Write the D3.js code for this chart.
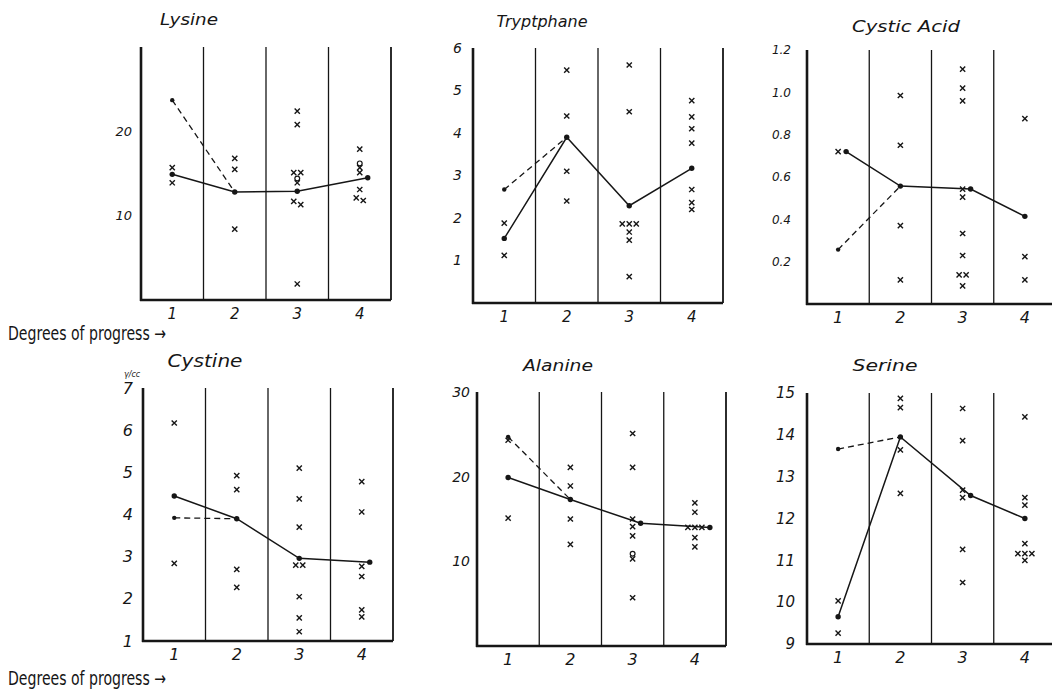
<html>
<head>
  <title>Amino acids by degree of progress</title>
  <script src="https://d3js.org/d3.v7.min.js"></script>
  <style>
    body { margin: 0; background: #fff; }
    text { fill: #161616; }
  </style>
</head>
<body>
  <div id="chart"></div>

  <script type="text/javascript">

    // degrees of progress (x categories, same for every panel)
    var categories = [1, 2, 3, 4];

    // Lysine
    var lysineTicks = [10, 20];
    var lysinePoints = [[15.7, 13.9], [16.8, 15.5, 8.4], [22.4, 20.8, 15.1, 15.1, 13.9, 11.7, 11.3, 1.9], [17.9, 15.7, 15.1, 13.1, 12.1, 11.8]];
    var lysineRings = [[], [], [14.4], [16.2]];
    var lysineMeans = [14.9, 12.8, 12.9, 14.5];
    var lysineStart = 23.7;

    // Tryptophane
    var tryptTicks = [1, 2, 3, 4, 5, 6];
    var tryptPoints = [[1.88, 1.12], [5.48, 4.4, 3.1, 2.4], [5.6, 4.5, 1.86, 1.86, 1.86, 1.67, 1.48, 0.62], [4.76, 4.38, 4.1, 3.76, 2.67, 2.36, 2.2]];
    var tryptMeans = [1.52, 3.9, 2.29, 3.17];
    var tryptStart = 2.67;

    // Cystic acid
    var cysticTicks = [0.2, 0.4, 0.6, 0.8, 1.0, 1.2];
    var cysticPoints = [[0.72], [0.985, 0.75, 0.37, 0.114], [1.11, 1.02, 0.96, 0.543, 0.505, 0.333, 0.229, 0.138, 0.138, 0.086], [0.876, 0.224, 0.114]];
    var cysticMeans = [0.72, 0.557, 0.543, 0.414];
    var cysticStart = 0.257;

    // Cystine
    var cystineTicks = [1, 2, 3, 4, 5, 6, 7];
    var cystinePoints = [[6.17, 2.84], [4.92, 4.59, 2.7, 2.27], [5.1, 4.37, 3.7, 2.8, 2.8, 2.05, 1.55, 1.22], [4.78, 4.06, 2.77, 2.53, 1.74, 1.57]];
    var cystineMeans = [4.44, 3.9, 2.96, 2.87];
    var cystineStart = 3.92;

    // Alanine
    var alanineTicks = [10, 20, 30];
    var alaninePoints = [[24.3, 15.1], [21.1, 18.9, 15.0, 12.0], [25.1, 21.1, 15.0, 14.1, 13.0, 10.3, 5.7], [16.9, 15.8, 14.0, 14.0, 14.0, 12.8, 11.7]];
    var alanineRings = [[], [], [10.9], []];
    var alanineMeans = [19.9, 17.3, 14.5, 14.0];
    var alanineStart = 24.7;

    // Serine
    var serineTicks = [9, 10, 11, 12, 13, 14, 15];
    var serinePoints = [[10.03, 9.26], [14.87, 14.65, 13.64, 12.6], [14.63, 13.86, 12.68, 12.5, 11.26, 10.47], [14.43, 12.5, 12.32, 11.4, 11.16, 11.16, 11.16, 11.0]];
    var serineMeans = [9.65, 13.95, 12.55, 12.0];
    var serineStart = 13.66;

    // panel layout: box = [left, right, top, bottom]
    var panels = [
      {title: "Lysine", domain: [0, 30], ticks: lysineTicks, points: lysinePoints, rings: lysineRings, means: lysineMeans, start: lysineStart,
       box: [141, 391, 47, 300], fmt: "d", yPad: 9, ySize: 13, xSize: 15, titleX: 189, titleY: 25, titleW: 58, titleSize: 15},
      {title: "Tryptphane", domain: [0, 6], ticks: tryptTicks, points: tryptPoints, rings: null, means: tryptMeans, start: tryptStart,
       box: [473, 723, 48, 303], fmt: "d", yPad: 11, ySize: 14, xSize: 15, titleX: 542, titleY: 27, titleW: 91, titleSize: 16},
      {title: "Cystic Acid", domain: [0, 1.2], ticks: cysticTicks, points: cysticPoints, rings: null, means: cysticMeans, start: cysticStart,
       box: [807, 1056, 50, 304], fmt: ".1f", yPad: 16, ySize: 12, xSize: 16, titleX: 906, titleY: 32, titleW: 108, titleSize: 16},
      {title: "Cystine", domain: [1, 7], ticks: cystineTicks, points: cystinePoints, rings: null, means: cystineMeans, start: cystineStart,
       box: [143, 393, 388, 641], fmt: "d", yPad: 10, ySize: 16, xSize: 16, titleX: 205, titleY: 367, titleW: 75, titleSize: 17},
      {title: "Alanine", domain: [0, 30], ticks: alanineTicks, points: alaninePoints, rings: alanineRings, means: alanineMeans, start: alanineStart,
       box: [477, 726, 392, 646], fmt: "d", yPad: 7, ySize: 14, xSize: 16, titleX: 558, titleY: 371, titleW: 70, titleSize: 16},
      {title: "Serine", domain: [9, 15], ticks: serineTicks, points: serinePoints, rings: null, means: serineMeans, start: serineStart,
       box: [807, 1056, 393, 644], fmt: "d", yPad: 12, ySize: 15, xSize: 16, titleX: 885, titleY: 371, titleW: 65, titleSize: 16}
    ];

    var ink = "#161616";
    var hand = "'DejaVu Sans', sans-serif";

    var svg = d3.select("#chart")
                .append("svg")
                  .attr("width", 1052)
                  .attr("height", 696);

    // spreads crosses that sit at the same height, and pushes the mean dot aside
    function placeColumn(vals, mean, y) {
      var pts = vals.map(function(v) { return {v: v, py: y(v), dx: 0}; })
                    .sort(function(a, b) { return a.py - b.py; });
      var clusters = [];
      pts.forEach(function(p) {
        var last = clusters[clusters.length - 1];
        if (last && p.py - last[last.length - 1].py < 4) last.push(p);
        else clusters.push([p]);
      });
      clusters.forEach(function(c) {
        c.forEach(function(p, i) { p.dx = (i - (c.length - 1) / 2) * 7; });
      });
      var near = pts.filter(function(p) { return Math.abs(p.py - y(mean)) < 5.5; });
      var meanDx = near.length ? d3.max(near, function(p) { return p.dx; }) + 8 : 0;
      return {pts: pts, meanDx: meanDx};
    }

    panels.forEach(function(p) {
      var L = p.box[0], R = p.box[1], T = p.box[2], B = p.box[3];

      var x = d3.scaleBand().domain(categories).range([L, R]);
      var y = d3.scaleLinear().domain(p.domain).range([B, T]);
      var cx = function(c) { return x(c) + x.bandwidth() / 2; };

      var g = svg.append("g");

      // column dividers
      g.selectAll(".divider")
          .data(categories.slice(1))
          .enter()
          .append("line")
          .attr("x1", function(d) { return x(d); })
          .attr("x2", function(d) { return x(d); })
          .attr("y1", T)
          .attr("y2", B)
          .attr("stroke", ink)
          .attr("stroke-width", 1.3);

      // right edge
      g.append("line")
          .attr("x1", R).attr("x2", R)
          .attr("y1", T).attr("y2", B)
          .attr("stroke", ink)
          .attr("stroke-width", 1.8);

      // left and bottom axes (heavy lines)
      g.append("line")
          .attr("x1", L).attr("x2", L)
          .attr("y1", T).attr("y2", B + 1)
          .attr("stroke", ink)
          .attr("stroke-width", 2.6);
      g.append("line")
          .attr("x1", L - 1).attr("x2", R)
          .attr("y1", B).attr("y2", B)
          .attr("stroke", ink)
          .attr("stroke-width", 2.6);

      var yAxis = d3.axisLeft(y)
          .tickValues(p.ticks)
          .tickSize(0)
          .tickPadding(p.yPad)
          .tickFormat(d3.format(p.fmt));

      g.append("g")
          .attr("transform", "translate(" + L + ",0)")
          .call(yAxis)
          .call(function(a) { a.select(".domain").remove(); })
          .selectAll("text")
            .attr("font-family", hand)
            .attr("font-style", "italic")
            .attr("font-size", p.ySize)
            .attr("fill", ink);

      var xAxis = d3.axisBottom(x)
          .tickSize(0)
          .tickPadding(8);

      g.append("g")
          .attr("transform", "translate(0," + B + ")")
          .call(xAxis)
          .call(function(a) { a.select(".domain").remove(); })
          .selectAll("text")
            .attr("font-family", hand)
            .attr("font-style", "italic")
            .attr("font-size", p.xSize)
            .attr("fill", ink);

      // title
      g.append("text")
          .attr("x", p.titleX - p.titleW / 2)
          .attr("y", p.titleY)
          .attr("textLength", p.titleW)
          .attr("lengthAdjust", "spacingAndGlyphs")
          .attr("font-family", hand)
          .attr("font-style", "italic")
          .attr("font-size", p.titleSize)
          .text(p.title);

      // crosses and mean positions
      var meanPos = [];
      var crosses = [];
      categories.forEach(function(c, i) {
        var col = placeColumn(p.points[i], p.means[i], y);
        col.pts.forEach(function(pt) {
          crosses.push({x: cx(c) + pt.dx, y: pt.py});
        });
        meanPos.push([cx(c) + col.meanDx, y(p.means[i])]);
      });

      g.selectAll(".cross")
          .data(crosses)
          .enter()
          .append("path")
          .attr("class", "cross")
          .attr("d", function(d) {
            var s = 2.6;
            return "M" + (d.x - s) + "," + (d.y - s) + "L" + (d.x + s) + "," + (d.y + s) +
                   "M" + (d.x - s) + "," + (d.y + s) + "L" + (d.x + s) + "," + (d.y - s);
          })
          .attr("stroke", ink)
          .attr("stroke-width", 1.4)
          .attr("fill", "none");

      if (p.rings) {
        var rings = [];
        categories.forEach(function(c, i) {
          p.rings[i].forEach(function(v) { rings.push({x: cx(c), y: y(v)}); });
        });
        g.selectAll(".ring")
            .data(rings)
            .enter()
            .append("circle")
            .attr("cx", function(d) { return d.x; })
            .attr("cy", function(d) { return d.y; })
            .attr("r", 2.4)
            .attr("fill", "none")
            .attr("stroke", ink)
            .attr("stroke-width", 1.2);
      }

      // solid line through the means
      g.append("path")
          .attr("d", d3.line()(meanPos))
          .attr("fill", "none")
          .attr("stroke", ink)
          .attr("stroke-width", 1.5);

      // dashed line from the other first value to the second mean
      var startPos = [cx(categories[0]), y(p.start)];
      g.append("path")
          .attr("d", d3.line()([startPos, meanPos[1]]))
          .attr("fill", "none")
          .attr("stroke", ink)
          .attr("stroke-width", 1.3)
          .attr("stroke-dasharray", "6,4");

      g.selectAll(".mean")
          .data(meanPos)
          .enter()
          .append("circle")
          .attr("cx", function(d) { return d[0]; })
          .attr("cy", function(d) { return d[1]; })
          .attr("r", 2.7)
          .attr("fill", ink);

      g.append("circle")
          .attr("cx", startPos[0])
          .attr("cy", startPos[1])
          .attr("r", 2.2)
          .attr("fill", ink);
    });

    // unit label on the Cystine panel
    svg.append("text")
        .attr("x", 124)
        .attr("y", 377)
        .attr("font-family", hand)
        .attr("font-style", "italic")
        .attr("font-size", 8)
        .text("γ/cc");

    // row captions
    [340, 685].forEach(function(yy) {
      svg.append("text")
          .attr("x", 8)
          .attr("y", yy)
          .attr("textLength", 158)
          .attr("lengthAdjust", "spacingAndGlyphs")
          .attr("font-family", "'Liberation Sans Narrow', 'DejaVu Sans Condensed', sans-serif")
          .attr("font-size", 19)
          .text("Degrees of progress →");
    });

  </script>
</body>
</html>
